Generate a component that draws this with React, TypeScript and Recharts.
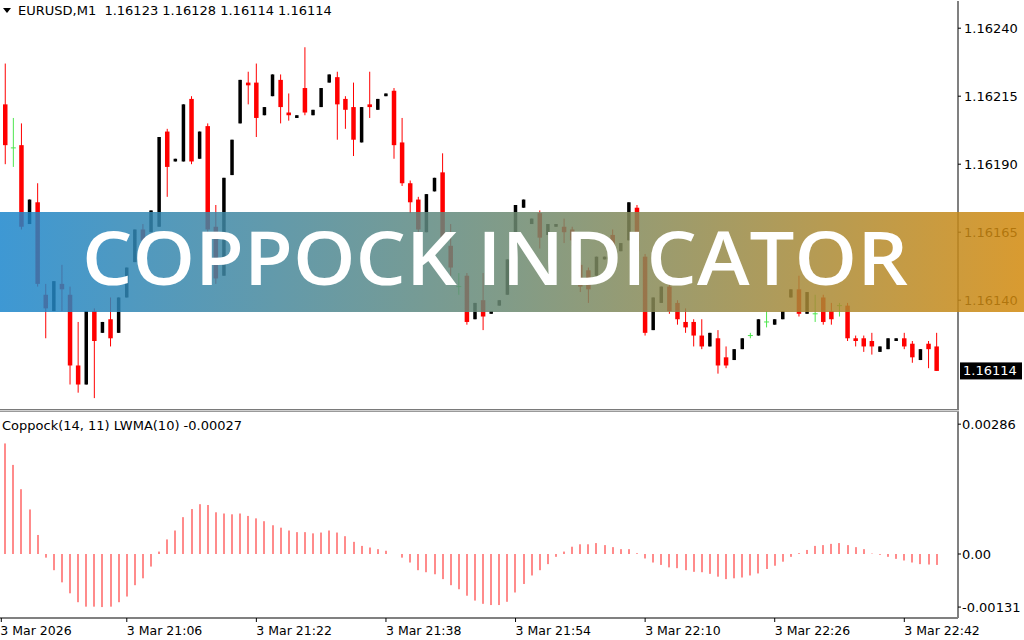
import React from "react";
import { ComposedChart, Bar, XAxis, YAxis } from "recharts";

// EURUSD M1, 3 Mar 2026, bars from 20:51 to 22:46
const opens = [
  1.16212, 1.16196, 1.16197, 1.16168, 1.16176, 1.16142, 1.16136, 1.16146, 1.16142, 1.16116,
  1.16109, 1.16136, 1.16128, 1.16133, 1.16128, 1.16141, 1.16154, 1.16166, 1.16165, 1.16167,
  1.16202, 1.16191, 1.16191, 1.16214, 1.16192, 1.16204, 1.16167, 1.16149, 1.16186, 1.16205,
  1.1622, 1.1622, 1.16208, 1.16215, 1.16221, 1.16209, 1.16207, 1.16218, 1.16208, 1.16211,
  1.1622, 1.16222, 1.16214, 1.16211, 1.16198, 1.16212, 1.1621, 1.16215, 1.16217, 1.16198,
  1.16183, 1.16177, 1.16165, 1.1618, 1.16187, 1.1616, 1.16145, 1.16149, 1.16133, 1.1614,
  1.16135, 1.16138, 1.16142, 1.16165, 1.16174, 1.16168, 1.16172, 1.16164, 1.16167, 1.16167,
  1.16166, 1.16153, 1.16151, 1.16149, 1.16155, 1.16164, 1.16158, 1.16162, 1.16174, 1.16156,
  1.16129, 1.16139, 1.16145, 1.16139, 1.16132, 1.16132, 1.16127, 1.16123, 1.16126, 1.16119,
  1.16118, 1.16122, 1.16127, 1.16127, 1.16132, 1.16131, 1.16133, 1.16141, 1.16144, 1.16135,
  1.16135, 1.16141, 1.16136, 1.16138, 1.16138, 1.16126, 1.16126, 1.16125, 1.16121, 1.16122,
  1.16125, 1.16126, 1.16124, 1.16118, 1.16124, 1.16123,
];
const highs = [
  1.16227, 1.16207, 1.16205, 1.16177, 1.16183, 1.16146, 1.16147, 1.16153, 1.16145, 1.16132,
  1.16136, 1.16137, 1.16132, 1.16141, 1.16141, 1.16152, 1.16166, 1.16168, 1.16173, 1.162,
  1.16203, 1.16192, 1.16212, 1.16215, 1.16202, 1.16205, 1.16175, 1.16185, 1.16199, 1.16221,
  1.16224, 1.16227, 1.16211, 1.16223, 1.16223, 1.16216, 1.16208, 1.16233, 1.1621, 1.16218,
  1.16223, 1.16224, 1.16215, 1.1622, 1.16211, 1.16224, 1.16214, 1.16216, 1.16218, 1.16207,
  1.16184, 1.16178, 1.16179, 1.16185, 1.16194, 1.16168, 1.1615, 1.1615, 1.16139, 1.1615,
  1.16136, 1.1614, 1.16155, 1.16175, 1.16177, 1.1617, 1.16173, 1.16168, 1.16168, 1.1617,
  1.16167, 1.16154, 1.16152, 1.16156, 1.16156, 1.16166, 1.16161, 1.16176, 1.16175, 1.16157,
  1.16141, 1.16145, 1.16146, 1.1614, 1.16137, 1.16133, 1.16133, 1.16128, 1.16129, 1.16123,
  1.16122, 1.16126, 1.16128, 1.16133, 1.16136, 1.16133, 1.16136, 1.16144, 1.16149, 1.16143,
  1.16142, 1.16142, 1.16139, 1.16139, 1.16139, 1.16127, 1.16127, 1.16128, 1.16123, 1.16126,
  1.16126, 1.16128, 1.16125, 1.16122, 1.16125, 1.16128,
];
const lows = [
  1.1619, 1.16189, 1.16166, 1.16168, 1.16145, 1.16126, 1.16136, 1.16136, 1.16109, 1.16106,
  1.16109, 1.16104, 1.16128, 1.16123, 1.16128, 1.16141, 1.16154, 1.16152, 1.16165, 1.16167,
  1.16178, 1.16191, 1.16191, 1.1619, 1.16192, 1.16165, 1.16146, 1.16149, 1.16186, 1.16205,
  1.16212, 1.162, 1.16208, 1.16215, 1.16205, 1.16206, 1.16207, 1.16208, 1.16208, 1.16211,
  1.1622, 1.16199, 1.16203, 1.16193, 1.16198, 1.16207, 1.1621, 1.16215, 1.16192, 1.16182,
  1.16172, 1.16165, 1.16165, 1.1618, 1.16162, 1.16149, 1.16142, 1.16131, 1.16133, 1.16129,
  1.16135, 1.16138, 1.16142, 1.16165, 1.16174, 1.16168, 1.16159, 1.16164, 1.16167, 1.16161,
  1.1616, 1.16143, 1.16139, 1.16149, 1.16155, 1.16151, 1.16158, 1.16162, 1.16157, 1.16127,
  1.16129, 1.16139, 1.16135, 1.16131, 1.16128, 1.16123, 1.16122, 1.16123, 1.16113, 1.16115,
  1.16118, 1.16122, 1.16126, 1.16127, 1.1613, 1.16131, 1.16133, 1.16141, 1.16134, 1.16135,
  1.16132, 1.16131, 1.16131, 1.16134, 1.16125, 1.16123, 1.16121, 1.1612, 1.16121, 1.16122,
  1.16125, 1.16122, 1.16117, 1.16118, 1.16115, 1.16114,
];
const closes = [
  1.16197, 1.16196, 1.16167, 1.16177, 1.16146, 1.16137, 1.16147, 1.16144, 1.16116, 1.16109,
  1.16136, 1.16125, 1.16132, 1.16126, 1.16141, 1.16152, 1.16166, 1.16162, 1.16173, 1.162,
  1.16189, 1.16192, 1.16212, 1.16191, 1.16202, 1.16166, 1.16148, 1.16185, 1.16199, 1.16221,
  1.16219, 1.16207, 1.16211, 1.16223, 1.16211, 1.16208, 1.16208, 1.16209, 1.1621, 1.16218,
  1.16223, 1.16212, 1.1621, 1.16199, 1.16211, 1.16211, 1.16214, 1.16216, 1.16197, 1.16183,
  1.16176, 1.16166, 1.16179, 1.16185, 1.16163, 1.16152, 1.16145, 1.16132, 1.16139, 1.16134,
  1.16136, 1.1614, 1.16155, 1.16175, 1.16177, 1.1617, 1.16163, 1.16168, 1.16168, 1.16165,
  1.16162, 1.16145, 1.16144, 1.16156, 1.16156, 1.16152, 1.16161, 1.16176, 1.16158, 1.16128,
  1.16141, 1.16145, 1.16136, 1.16133, 1.1613, 1.16127, 1.16123, 1.16128, 1.16116, 1.16116,
  1.16122, 1.16126, 1.16127, 1.16133, 1.16132, 1.16133, 1.16136, 1.16144, 1.16135, 1.16143,
  1.16135, 1.16132, 1.16133, 1.16138, 1.16126, 1.16125, 1.16123, 1.16123, 1.16123, 1.16126,
  1.16126, 1.16123, 1.16119, 1.16122, 1.16122, 1.16114,
];

// Coppock(14, 11) LWMA(10) histogram
const coppock = [
  0.00273, 0.0022, 0.0016, 0.0011, 0.00047, -0.00009, -0.0004, -0.0007, -0.00097, -0.00119,
  -0.0013, -0.0013, -0.00131, -0.0013, -0.00119, -0.00105, -0.00077, -0.0006, -0.00031, 0.00006,
  0.00036, 0.00058, 0.00091, 0.00111, 0.00123, 0.00121, 0.00103, 0.001, 0.00098, 0.001,
  0.00094, 0.00088, 0.00081, 0.00071, 0.00065, 0.00058, 0.00054, 0.00054, 0.00051, 0.00053,
  0.00058, 0.00053, 0.00044, 0.0003, 0.0002, 0.00016, 0.00012, 0.00008, 0, -0.00009,
  -0.00021, -0.0004, -0.00045, -0.0005, -0.00062, -0.00077, -0.00087, -0.00103, -0.00115, -0.00123,
  -0.00126, -0.00126, -0.00118, -0.00095, -0.00074, -0.00053, -0.0004, -0.00025, -0.00007, 0.00006,
  0.00018, 0.00024, 0.00024, 0.00027, 0.00022, 0.00017, 0.00012, 0.00012, 0.00002, -0.00011,
  -0.00021, -0.00027, -0.00033, -0.00035, -0.0004, -0.00044, -0.00045, -0.00049, -0.00056, -0.00062,
  -0.0006, -0.00058, -0.00053, -0.00048, -0.00037, -0.00029, -0.00019, -0.00007, 0.00002, 0.0001,
  0.0002, 0.00022, 0.00025, 0.00027, 0.00022, 0.00017, 0.00012, 0.00001, -0.00002, -0.00007,
  -0.00012, -0.00016, -0.00021, -0.00025, -0.00026, -0.00027,
];

const priceTicks = [1.1614, 1.16165, 1.1619, 1.16215, 1.1624];
const lastPrice = 1.16114;
const copTicks = [0.00286, 0, -0.00131];
const timeTickBars = [0, 15, 31, 47, 63, 79, 95, 111];
const timeTickLabels = [
  "3 Mar 2026",
  "3 Mar 21:06",
  "3 Mar 21:22",
  "3 Mar 21:38",
  "3 Mar 21:54",
  "3 Mar 22:10",
  "3 Mar 22:26",
  "3 Mar 22:42",
];

const FIRST_MINUTE = 20 * 60 + 51;
const times = opens.map((_, i) => {
  const m = FIRST_MINUTE + i;
  return `${Math.floor(m / 60)}:${String(m % 60).padStart(2, "0")}`;
});

const data = times.map((time, i) => ({
  time,
  open: opens[i],
  high: highs[i],
  low: lows[i],
  close: closes[i],
  range: [lows[i], highs[i]],
  cop: coppock[i],
}));

const FONT = "DejaVu Sans";
const AXIS = "#808080";
const X_PAD = { left: 1.25, right: 17.25 };

// eslint-disable-next-line @typescript-eslint/no-explicit-any
function Candle(props: any) {
  const { x, y, width, height, payload } = props;
  if (!payload) return null;
  const { open, close, high, low } = payload;
  const top = Math.min(y, y + height);
  const k = Math.abs(height) / (high - low);
  const cx = x + width / 2;
  const at = (v: number) => top + (high - v) * k;
  if (open === close) {
    const c = "#4ee64e";
    return (
      <g>
        <line x1={cx} x2={cx} y1={at(high)} y2={at(low)} stroke={c} strokeWidth={1} />
        <line x1={cx - 2.5} x2={cx + 2.5} y1={at(open)} y2={at(open)} stroke={c} strokeWidth={1} />
      </g>
    );
  }
  const bull = close > open;
  const c = bull ? "#000000" : "#ff0000";
  const bw = bull ? 3.5 : 4.5;
  const bTop = at(Math.max(open, close));
  const bH = Math.max(1, at(Math.min(open, close)) - bTop);
  return (
    <g>
      <line x1={cx} x2={cx} y1={at(high)} y2={at(low)} stroke={c} strokeWidth={1} />
      <rect x={cx - bw / 2} y={bTop} width={bw} height={bH} fill={c} />
    </g>
  );
}

// eslint-disable-next-line @typescript-eslint/no-explicit-any
function Stick(props: any) {
  const { x, y, width, height } = props;
  const h = Math.abs(height);
  if (!h) return null;
  const top = Math.min(y, y + height);
  const cx = Math.round(x + width / 2);
  return <rect x={cx - 0.6} y={top} width={1.2} height={h} fill="#ff4040" />;
}

// eslint-disable-next-line @typescript-eslint/no-explicit-any
function PriceTick({ x, y, payload }: any) {
  const v = payload.value as number;
  if (v === lastPrice) {
    return (
      <g>
        <rect x={x + 2} y={y - 8.5} width={62} height={17} fill="#000" />
        <text x={x + 5} y={y + 4.5} fill="#fff" fontSize={13} fontFamily={FONT}>
          {v.toFixed(5)}
        </text>
      </g>
    );
  }
  return (
    <g>
      <line x1={x} x2={x + 3} y1={y} y2={y} stroke="#000" />
      <text x={x + 6} y={y + 4.5} fill="#000" fontSize={13} fontFamily={FONT}>
        {v.toFixed(5)}
      </text>
    </g>
  );
}

// eslint-disable-next-line @typescript-eslint/no-explicit-any
function CopTick({ x, y, payload }: any) {
  const v = payload.value as number;
  const yy = v === copTicks[0] ? y - 14 : y;
  return (
    <g>
      <line x1={x} x2={x + 3} y1={yy} y2={yy} stroke="#000" />
      <text x={x + 4} y={yy + 4.5} fill="#000" fontSize={13} fontFamily={FONT}>
        {v === 0 ? "0.00" : v.toFixed(5)}
      </text>
    </g>
  );
}

// eslint-disable-next-line @typescript-eslint/no-explicit-any
function TimeTick({ x, y, payload }: any) {
  const bar = times.indexOf(payload.value);
  const label = timeTickLabels[timeTickBars.indexOf(bar)];
  const tx = bar === 0 ? x - 4 : x;
  return (
    <g>
      <line x1={tx} x2={tx} y1={y} y2={y + 4} stroke="#000" />
      <text x={bar === 0 ? x - 5 : x} y={y + 17} fill="#000" fontSize={12.5} fontFamily={FONT}>
        {label}
      </text>
    </g>
  );
}

export default function App() {
  return (
    <div
      style={{
        position: "absolute",
        left: 0,
        top: 0,
        width: 1024,
        height: 640,
        background: "#fff",
        overflow: "hidden",
        fontFamily: FONT,
      }}
    >
      <div style={{ position: "absolute", left: 0, top: 0 }}>
        <ComposedChart width={1024} height={410} data={data} margin={{ top: 1, right: 0, bottom: 1, left: 0 }}>
          <XAxis dataKey="time" hide padding={X_PAD} />
          <YAxis
            orientation="right"
            width={66}
            domain={[1.161, 1.1625]}
            allowDataOverflow
            ticks={[...priceTicks, lastPrice]}
            interval={0}
            tick={<PriceTick />}
            tickLine={false}
            tickSize={0}
            tickMargin={0}
            axisLine={{ stroke: AXIS, strokeWidth: 2 }}
          />
          <Bar dataKey="range" barSize={4} shape={<Candle />} isAnimationActive={false} />
        </ComposedChart>
      </div>

      {/* pane separator */}
      <div
        style={{
          position: "absolute",
          left: 0,
          top: 409,
          width: 959,
          height: 1,
          borderTop: "1px solid #7a7a7a",
          borderBottom: "1px solid #9a9a9a",
          background: "#d0d0d0",
        }}
      />

      <div style={{ position: "absolute", left: 0, top: 412 }}>
        <ComposedChart width={1024} height={228} data={data} margin={{ top: 0, right: 0, bottom: 0, left: 0 }}>
          <XAxis
            dataKey="time"
            padding={X_PAD}
            height={22}
            ticks={timeTickBars.map((i) => times[i])}
            interval={0}
            tick={<TimeTick />}
            tickLine={false}
            tickSize={0}
            tickMargin={0}
            axisLine={{ stroke: AXIS, strokeWidth: 2 }}
          />
          <YAxis
            orientation="right"
            width={66}
            domain={[-0.00158, 0.003506]}
            allowDataOverflow
            ticks={copTicks}
            interval={0}
            tick={<CopTick />}
            tickLine={false}
            tickSize={0}
            tickMargin={0}
            axisLine={{ stroke: AXIS, strokeWidth: 2 }}
          />
          <Bar dataKey="cop" barSize={2} shape={<Stick />} isAnimationActive={false} />
        </ComposedChart>
      </div>

      {/* pane titles */}
      <svg style={{ position: "absolute", left: 0, top: 0 }} width={400} height={20}>
        <polygon points="3,8 11,8 7,13" fill="#000" />
        <text x={18} y={15} fontSize={13} fontFamily={FONT} fill="#000" style={{ whiteSpace: "pre" }}>
          EURUSD,M1  1.16123 1.16128 1.16114 1.16114
        </text>
      </svg>
      <svg style={{ position: "absolute", left: 0, top: 414 }} width={400} height={20}>
        <text x={2} y={16} fontSize={13} fontFamily={FONT} fill="#000">
          Coppock(14, 11) LWMA(10) -0.00027
        </text>
      </svg>

      {/* banner */}
      <svg style={{ position: "absolute", left: 0, top: 212 }} width={1024} height={100}>
        <defs>
          <linearGradient id="bannerGrad" x1="0" y1="0" x2="1" y2="0">
            <stop offset="0" stopColor="#1c86cc" />
            <stop offset="0.5" stopColor="#6c8a72" />
            <stop offset="1" stopColor="#d2890c" />
          </linearGradient>
        </defs>
        <rect x={0} y={0} width={1024} height={100} fill="url(#bannerGrad)" opacity={0.85} />
        <text
          x={82}
          y={73}
          textLength={826}
          lengthAdjust="spacingAndGlyphs"
          fill="#fff"
          fontSize={74}
          fontWeight={600}
          fontFamily="Open Sans"
        >
          COPPOCK INDICATOR
        </text>
      </svg>
    </div>
  );
}
